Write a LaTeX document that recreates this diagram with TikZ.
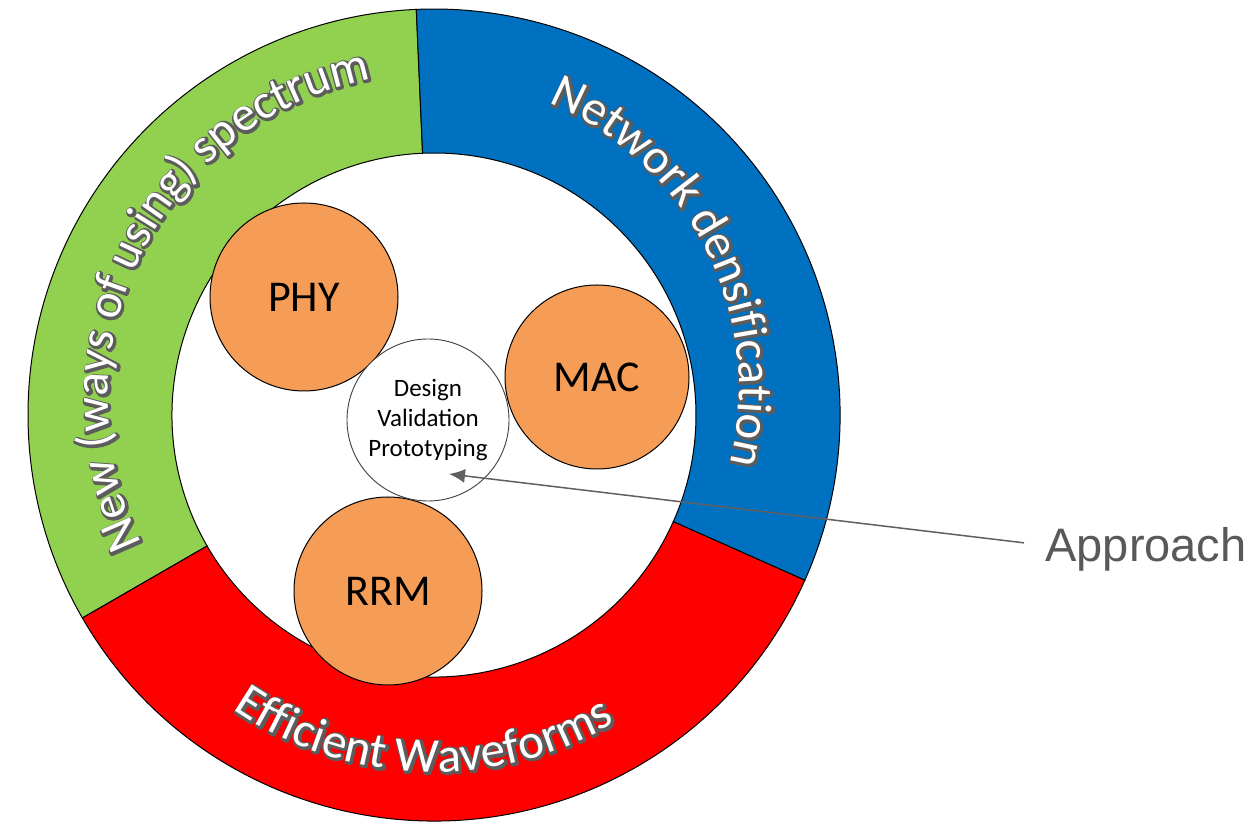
\documentclass[tikz,border=0pt]{standalone}
\usepackage{fontspec}
\setmainfont{Carlito}
\newfontfamily\apprfont{Liberation Sans}
\usetikzlibrary{decorations.text,arrows.meta}
\definecolor{ringgreen}{HTML}{92D050}
\definecolor{ringblue}{HTML}{0070C0}
\definecolor{ringred}{HTML}{FF0000}
\definecolor{orangefill}{HTML}{F59D56}
\definecolor{outl}{HTML}{5C5C5C}
\definecolor{arrowgray}{HTML}{606060}
\definecolor{apprgray}{HTML}{595959}
% outline copy: grey fill + wide grey stroke
\newcommand\ringfntout{\fontsize{24.5pt}{29pt}\selectfont\color{outl}%
  \special{pdf:literal direct 0.36 0.36 0.36 RG 0.36 0.36 0.36 rg 2.2 w 1 j 2 Tr}}
% face copy: plain white letters
\newcommand\ringfnt{\fontsize{24.5pt}{29pt}\selectfont\color{white}%
  \special{pdf:literal direct 0 Tr}}
% ring segment: colour, start angle, end angle
\newcommand\ringseg[3]{%
  \filldraw[fill=#1,ringline] ([shift={(#2:406)}]C) arc[start angle=#2,end angle=#3,radius=406]
    -- ([shift={(#3:262)}]C) arc[start angle=#3,end angle=#2,radius=262] -- cycle;}
% text on arc: centre, radius, start, end, text
\newcommand\arctext[5]{%
  \begin{scope}
  \path[decorate,decoration={text along path,text align=center,text={|\ringfntout|#5}}]
    ([shift={(0.8,-0.8)}]#1) ++(#3:#2) arc[start angle=#3,end angle=#4,radius=#2];
  \end{scope}
  \begin{scope}
  \path[decorate,decoration={text along path,text align=center,text={|\ringfnt|#5}}]
    (#1) ++(#3:#2) arc[start angle=#3,end angle=#4,radius=#2];
  \end{scope}}
\tikzset{
  ringline/.style={draw=black,line width=0.5pt},
  orangecirc/.style={circle,fill=orangefill,draw=black,line width=0.5pt,inner sep=0pt,
    font=\fontsize{22pt}{26pt}\selectfont},
  designcirc/.style={circle,fill=white,draw=black!75,line width=0.45pt,inner sep=0pt,
    minimum size=81pt,align=center,font=\fontsize{12.5pt}{15pt}\selectfont},
  apprlabel/.style={font=\apprfont\fontsize{23.5pt}{28pt}\selectfont,text=apprgray,
    anchor=base west,inner xsep=10.5pt,inner ysep=0pt},
  pointer/.style={draw=arrowgray,line width=0.75pt,-{Latex[length=8pt,width=7pt]},arrowgray}
}
\begin{document}
\begin{tikzpicture}[x=0.5pt,y=0.5pt]
\fill[white] (0,0) rectangle (1257,824);
\useasboundingbox (0,0) rectangle (1257,824);
\coordinate (C) at (434,409);
\coordinate (G) at (434,425);
\coordinate (B) at (431,436);
% ring
\ringseg{ringgreen}{92.5}{210}
\ringseg{ringred}{210}{336}
\ringseg{ringblue}{336}{452.5}
% ring texts
\arctext{G}{326}{228.7}{78.7}{New (ways of using) spectrum}
\arctext{B}{308}{91.7}{-38.3}{Network densification}
\arctext{C}{357}{208.1}{328.1}{Efficient Waveforms}
\begin{scope}
\special{pdf:literal direct 0 Tr}
\end{scope}
% inner circles
\node[orangecirc,minimum size=94pt] (phy) at (304,527) {PHY};
\node[orangecirc,minimum size=92pt] (mac) at (597,447) {MAC};
\node[orangecirc,minimum size=94pt] (rrm) at (388,233) {RRM};
\node[designcirc] (dvp) at (428,404) {Design\\Validation\\Prototyping};
% approach label and pointer
\node[apprlabel] (appr) at (1024,262) {Approach};
\coordinate (tip) at (449,350);
\draw[pointer] ([yshift=3.5pt]appr.west) -- (tip);
\end{tikzpicture}
\end{document}
